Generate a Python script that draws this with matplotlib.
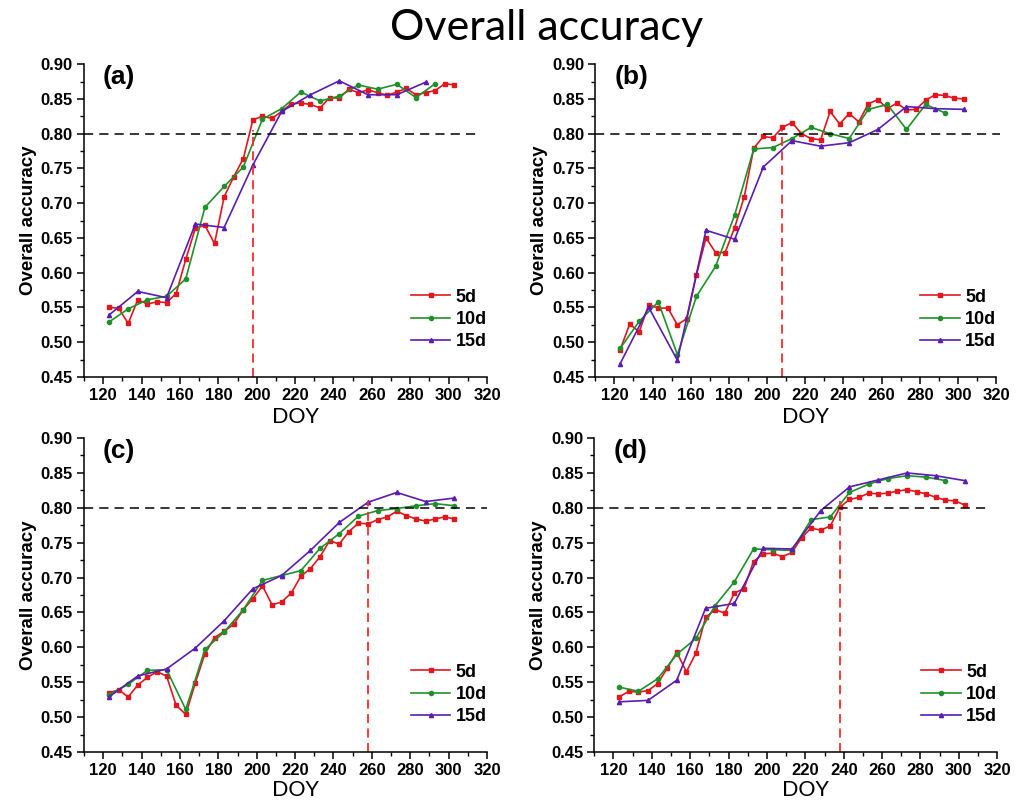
import matplotlib
matplotlib.use("Agg")
import matplotlib.pyplot as plt
from matplotlib.ticker import MultipleLocator, FormatStrFormatter

# DOY of each composite
doy_5d = [123, 128, 133, 138, 143, 148, 153, 158, 163, 168, 173, 178, 183,
          188, 193, 198, 203, 208, 213, 218, 223, 228, 233, 238, 243, 248,
          253, 258, 263, 268, 273, 278, 283, 288, 293, 298, 303]
doy_10d = [123, 133, 143, 153, 163, 173, 183, 193, 203, 213, 223, 233, 243,
           253, 263, 273, 283, 293]
doy_10d_all = doy_10d + [303]
doy_15d = [123, 138, 153, 168, 183, 198, 213, 228, 243, 258, 273, 288]
doy_15d_all = doy_15d + [303]

# (a)
a_5d = [0.550, 0.549, 0.527, 0.561, 0.555, 0.558, 0.557, 0.570, 0.619, 0.664,
        0.668, 0.642, 0.709, 0.738, 0.764, 0.820, 0.825, 0.822, 0.832, 0.843,
        0.844, 0.842, 0.837, 0.852, 0.851, 0.864, 0.859, 0.863, 0.859, 0.855,
        0.860, 0.865, 0.856, 0.859, 0.862, 0.872, 0.870]
a_10d = [0.529, 0.548, 0.561, 0.566, 0.591, 0.694, 0.724, 0.752, 0.821, 0.836,
         0.860, 0.847, 0.854, 0.870, 0.864, 0.871, 0.852, 0.872]
a_15d = [0.539, 0.573, 0.564, 0.670, 0.665, 0.755, 0.832, 0.856, 0.876, 0.856,
         0.856, 0.874]

# (b)
b_5d = [0.489, 0.526, 0.515, 0.554, 0.549, 0.549, 0.525, 0.534, 0.597, 0.650,
        0.629, 0.629, 0.665, 0.709, 0.779, 0.796, 0.794, 0.809, 0.816, 0.800,
        0.793, 0.791, 0.832, 0.814, 0.829, 0.817, 0.843, 0.849, 0.836, 0.844,
        0.834, 0.835, 0.848, 0.856, 0.855, 0.851, 0.850]
b_10d = [0.491, 0.530, 0.558, 0.482, 0.566, 0.609, 0.683, 0.778, 0.780, 0.793,
         0.809, 0.800, 0.793, 0.835, 0.842, 0.806, 0.842, 0.830]
b_15d = [0.469, 0.550, 0.474, 0.661, 0.648, 0.752, 0.790, 0.782, 0.787, 0.806,
         0.839, 0.836, 0.835]

# (c)
c_5d = [0.535, 0.539, 0.529, 0.546, 0.557, 0.565, 0.559, 0.517, 0.504, 0.549,
        0.591, 0.614, 0.623, 0.633, 0.654, 0.670, 0.688, 0.661, 0.665, 0.678,
        0.702, 0.713, 0.730, 0.753, 0.748, 0.766, 0.778, 0.777, 0.783, 0.787,
        0.795, 0.789, 0.784, 0.781, 0.784, 0.787, 0.784]
c_10d = [0.532, 0.547, 0.567, 0.568, 0.511, 0.597, 0.622, 0.654, 0.696, 0.703,
         0.710, 0.742, 0.763, 0.788, 0.796, 0.799, 0.803, 0.806, 0.803]
c_15d = [0.529, 0.559, 0.569, 0.599, 0.638, 0.684, 0.703, 0.739, 0.779, 0.808,
         0.822, 0.809, 0.814]

# (d)
d_5d = [0.529, 0.537, 0.536, 0.538, 0.548, 0.570, 0.593, 0.565, 0.592, 0.643,
        0.654, 0.649, 0.678, 0.684, 0.723, 0.734, 0.735, 0.730, 0.736, 0.757,
        0.771, 0.768, 0.774, 0.801, 0.812, 0.815, 0.821, 0.820, 0.821, 0.824,
        0.826, 0.823, 0.820, 0.815, 0.811, 0.810, 0.804]
d_10d = [0.543, 0.537, 0.555, 0.590, 0.613, 0.660, 0.694, 0.741, 0.740, 0.739,
         0.783, 0.787, 0.822, 0.834, 0.842, 0.846, 0.844, 0.839]
d_15d = [0.522, 0.524, 0.553, 0.656, 0.663, 0.742, 0.741, 0.796, 0.830, 0.840,
         0.850, 0.846, 0.839]

# earliest DOY reaching 0.80 (5d)
cut_doy = {"a": 198, "b": 208, "c": 258, "d": 238}

RED, GREEN, PURPLE = "#E3161E", "#20912A", "#5A1CB2"
BOLD = "Liberation Sans"

# tag, axes rect, 5d, 10d, 15d, end of 0.80 line, DOY label offset
panels = [
    ("a", [0.0828, 0.530, 0.397, 0.390], a_5d, (doy_10d, a_10d), (doy_15d, a_15d), 315, -0.128),
    ("b", [0.5865, 0.530, 0.395, 0.390], b_5d, (doy_10d, b_10d), (doy_15d_all, b_15d), 322, -0.128),
    ("c", [0.0828, 0.0623, 0.397, 0.3915], c_5d, (doy_10d_all, c_10d), (doy_15d_all, c_15d), 320, -0.12),
    ("d", [0.5855, 0.0623, 0.397, 0.3915], d_5d, (doy_10d, d_10d), (doy_15d_all, d_15d), 315, -0.12),
]

fig = plt.figure(figsize=(10.15, 8.02), dpi=100)
fig.text(0.538, 0.965, "Overall accuracy", ha="center", va="center",
         fontsize=31, family="Lato")

for tag, rect, v5, (x10, v10), (x15, v15), hl_end, doy_y in panels:
    ax = fig.add_axes(rect)
    ax.plot(doy_5d, v5, color=RED, lw=1.2, marker="s", ms=3, label="5d")
    ax.plot(x10, v10, color=GREEN, lw=1.2, marker="o", ms=3, label="10d")
    ax.plot(x15, v15, color=PURPLE, lw=1.2, marker="^", ms=3, label="15d")

    ax.hlines(0.80, 110, hl_end, colors="black", linestyles=(0, (6, 4)), lw=1.1, clip_on=False)
    top = 0.805 if tag in "ab" else 0.81
    ax.vlines(cut_doy[tag], 0.45, top, colors="#FF2A2A", linestyles=(0, (5, 3)), lw=1.3)

    ax.set_xlim(110, 320)
    ax.set_ylim(0.45, 0.90)
    ax.xaxis.set_minor_locator(MultipleLocator(10))
    ax.yaxis.set_major_locator(MultipleLocator(0.05))
    ax.yaxis.set_minor_locator(MultipleLocator(0.025))
    ax.set_xticks(range(120, 321, 20))
    ax.yaxis.set_major_formatter(FormatStrFormatter("%.2f"))
    ax.tick_params(which="major", direction="out", length=5, width=1.1, pad=3)
    ax.tick_params(which="minor", direction="out", length=3, width=1.0)
    for lab in ax.get_xticklabels() + ax.get_yticklabels():
        lab.set_family(BOLD)
        lab.set_fontweight("bold")
        lab.set_fontsize(12)

    for side in ("top", "right"):
        ax.spines[side].set_visible(False)
    for side in ("left", "bottom"):
        ax.spines[side].set_linewidth(1.1)

    ax.set_xlabel("DOY", family="Lato", fontsize=15.5, va="center")
    ax.xaxis.set_label_coords(0.525, doy_y)
    ax.set_ylabel("Overall accuracy", family=BOLD, fontweight="bold", fontsize=13.5, labelpad=3)
    ax.text(0.047, 0.96, f"({tag})", transform=ax.transAxes, ha="left", va="center",
            family=BOLD, fontweight="bold", fontsize=19)

    ax.legend(loc="lower right", bbox_to_anchor=(1.0, 0.085), frameon=False,
              prop={"family": BOLD, "weight": "bold", "size": 13},
              handlelength=2.2, handletextpad=0.3, labelspacing=0.3,
              borderaxespad=0, borderpad=0)

fig.savefig("out.png", dpi=100)
